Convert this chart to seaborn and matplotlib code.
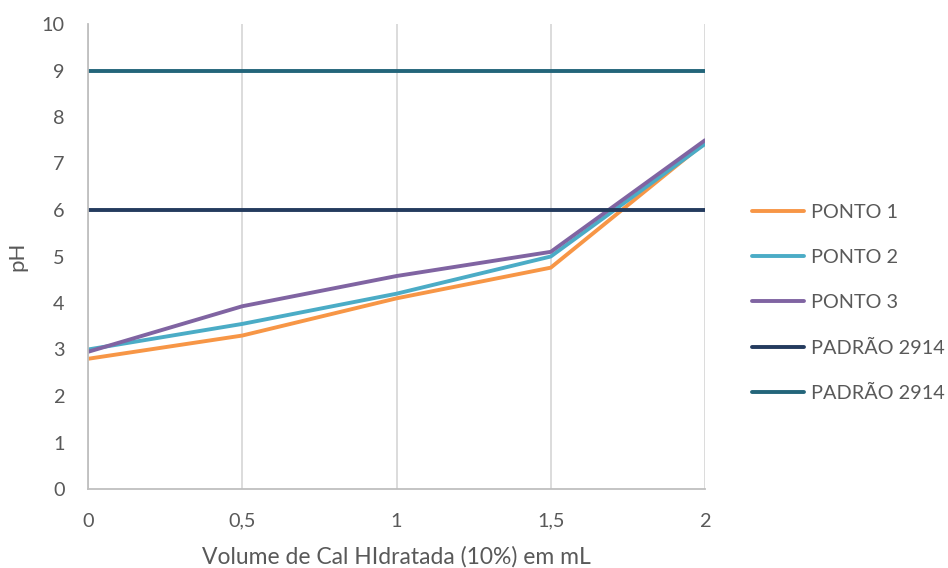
import matplotlib
matplotlib.use("Agg")
import matplotlib.pyplot as plt
import seaborn as sns
import pandas as pd

volume = [0, 0.5, 1, 1.5, 2]
ponto1 = [2.8, 3.3, 4.1, 4.76, 7.45]
ponto2 = [3.0, 3.55, 4.2, 5.0, 7.42]
ponto3 = [2.95, 3.93, 4.58, 5.1, 7.5]
padrao_min = [6, 6, 6, 6, 6]
padrao_max = [9, 9, 9, 9, 9]

series_names = ["PONTO 1", "PONTO 2", "PONTO 3", "PADRÃO 2914", "PADRÃO 2914"]
series_values = [ponto1, ponto2, ponto3, padrao_min, padrao_max]
colors = ["#F79646", "#4BACC6", "#8064A2", "#243B5E", "#23657A"]

x_ticks = [0, 0.5, 1, 1.5, 2]
x_tick_labels = ["0", "0,5", "1", "1,5", "2"]
y_ticks = list(range(0, 11))

sns.set_theme(style="white")
plt.rcParams["font.family"] = ["Lato", "DejaVu Sans"]

fig = plt.figure(figsize=(9.48, 5.68), dpi=100)
ax = fig.add_axes([88 / 948, 79 / 568, (705 - 88) / 948, (489 - 24) / 568])

for name, vals, c in zip(series_names, series_values, colors):
    df = pd.DataFrame({"x": volume, "y": vals})
    sns.lineplot(data=df, x="x", y="y", ax=ax, color=c, linewidth=2.8,
                 label=name, solid_capstyle="round")

ax.set_xlim(0, 2)
ax.set_ylim(0, 10)
ax.set_xticks(x_ticks)
ax.set_xticklabels(x_tick_labels)
ax.set_yticks(y_ticks)
ax.grid(axis="x", color="#D9D9D9", linewidth=1.3)
ax.grid(axis="y", visible=False)
ax.set_axisbelow(True)

for s in ["top", "right"]:
    ax.spines[s].set_visible(False)
for s in ["left", "bottom"]:
    ax.spines[s].set_color("#BFBFBF")
    ax.spines[s].set_linewidth(1.3)

ax.tick_params(axis="both", which="major", direction="out", length=6, width=1.3,
               color="#BFBFBF", labelsize=14.3, labelcolor="#595959", pad=11)
ax.tick_params(axis="x", pad=11)

ax.set_xlabel("Volume de Cal HIdratada (10%) em mL", fontsize=16.5, color="#595959", labelpad=12)
ax.set_ylabel("pH", fontsize=16, color="#595959", labelpad=10)

leg = ax.legend(loc="center left", bbox_to_anchor=(1.064, 0.40), frameon=False,
                fontsize=14.3, handlelength=2.6, handletextpad=0.35,
                labelspacing=1.43, borderaxespad=0)
for t in leg.get_texts():
    t.set_color("#595959")

fig.savefig("out.png", dpi=100)
